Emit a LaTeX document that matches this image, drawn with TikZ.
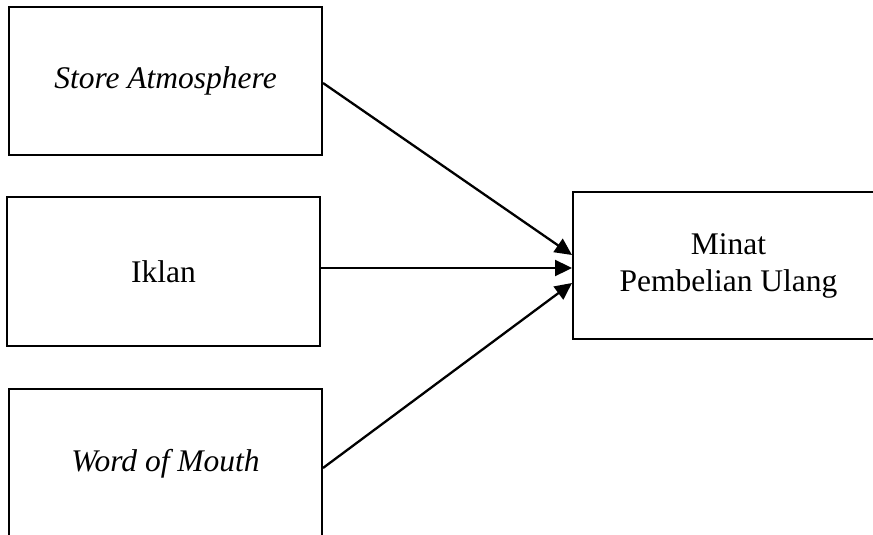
\documentclass[tikz,border=0pt]{standalone}
\usepackage{fontspec}
\setmainfont{Liberation Serif}
\usetikzlibrary{arrows.meta}
\begin{document}
\begin{tikzpicture}[x=1pt,y=-1pt,
  box/.style={draw=black,line width=2pt,rectangle,inner sep=0pt,align=center,
    font=\fontsize{31.5}{37}\selectfont},
  arr/.style={line width=2.3pt,-{Triangle[length=17pt,width=16pt]}}]
\useasboundingbox (0,0) rectangle (873,535);
\clip (0,0) rectangle (873,535);
\node[box,minimum width=313pt,minimum height=148pt] (sa) at (165.5,81) {\itshape Store Atmosphere};
\node[box,minimum width=313pt,minimum height=149pt] (ik) at (163.5,271.5) {Iklan};
\node[box,minimum width=313pt,minimum height=150pt] (wom) at (165.5,464) {\itshape Word of Mouth};
\node[box,minimum width=311pt,minimum height=147pt] (mpu) at (728.5,265.5) {Minat\\Pembelian Ulang};
\draw[arr] ([yshift=-2pt]sa.east) -- ([yshift=10.5pt]mpu.west);
\draw[arr] ([yshift=3.5pt]ik.east) -- ([yshift=3.5pt]ik.east -| mpu.west);
\draw[arr] ([yshift=-4pt]wom.east) -- ([yshift=-17.5pt]mpu.west);
\end{tikzpicture}
\end{document}
